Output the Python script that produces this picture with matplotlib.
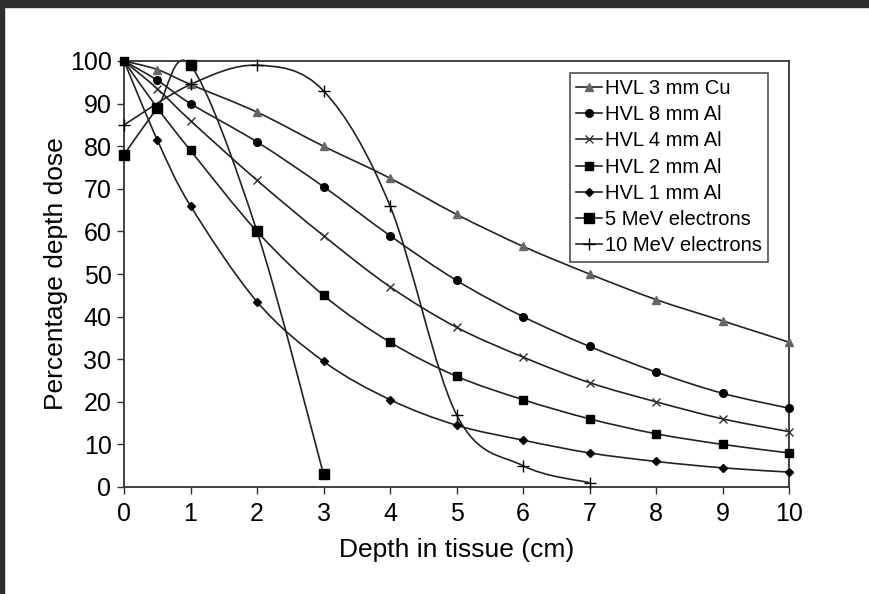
import matplotlib
matplotlib.use("Agg")
import matplotlib.pyplot as plt
from matplotlib.path import Path
from matplotlib.patches import PathPatch, Rectangle
from matplotlib.lines import Line2D
import numpy as np

plt.rcParams['font.family'] = ['Liberation Sans', 'DejaVu Sans']

depth = [0, 0.5, 1, 2, 3, 4, 5, 6, 7, 8, 9, 10]
hvl_3cu = [100, 98, 94.5, 88, 80, 72.5, 64, 56.5, 50, 44, 39, 34]
hvl_8al = [100, 95.5, 90, 81, 70.5, 59, 48.5, 40, 33, 27, 22, 18.5]
hvl_4al = [100, 93.5, 86, 72, 59, 47, 37.5, 30.5, 24.5, 20, 16, 13]
hvl_2al = [100, 89, 79, 60, 45, 34, 26, 20.5, 16, 12.5, 10, 8]
hvl_1al = [100, 81.5, 66, 43.5, 29.5, 20.5, 14.5, 11, 8, 6, 4.5, 3.5]
e5_depth = [0, 0.5, 1, 2, 3]
e5_dose = [78, 89, 99, 60, 3]
e10_depth = [0, 1, 2, 3, 4, 5, 6, 7]
e10_dose = [85, 94.5, 99, 93, 66, 17, 5, 1]

series = [
    ("HVL 3 mm Cu", depth, hvl_3cu, dict(marker='^', ms=6, mfc='#666666', mec='#666666')),
    ("HVL 8 mm Al", depth, hvl_8al, dict(marker='o', ms=5.5, mfc='black', mec='black')),
    ("HVL 4 mm Al", depth, hvl_4al, dict(marker='x', ms=6, mfc='none', mec='#333333', mew=1.0)),
    ("HVL 2 mm Al", depth, hvl_2al, dict(marker='s', ms=5.5, mfc='black', mec='black')),
    ("HVL 1 mm Al", depth, hvl_1al, dict(marker='D', ms=4, mfc='black', mec='black')),
    ("5 MeV electrons", e5_depth, e5_dose, dict(marker='s', ms=7, mfc='black', mec='black')),
    ("10 MeV electrons", e10_depth, e10_dose, dict(marker='+', ms=8, mfc='none', mec='black', mew=1.0)),
]

def smooth_path(xs, ys):
    pts = np.column_stack([xs, ys]).astype(float)
    n = len(pts)
    verts = [pts[0]]
    codes = [Path.MOVETO]
    for i in range(n - 1):
        p0 = pts[i - 1] if i > 0 else pts[i]
        p1 = pts[i]
        p2 = pts[i + 1]
        p3 = pts[i + 2] if i + 2 < n else pts[i + 1]
        c1 = p1 + (p2 - p0) / 6.0
        c2 = p2 - (p3 - p1) / 6.0
        verts += [c1, c2, p2]
        codes += [Path.CURVE4] * 3
    return Path(verts, codes)

fig = plt.figure(figsize=(8.69, 5.94), dpi=100)
fig.patch.set_facecolor('white')
ax = fig.add_axes([124/869, 1 - 487/594, 665/869, 426/594])

line_color = '#222222'
handles = []
for label, xs, ys, mk in series:
    patch = PathPatch(smooth_path(xs, ys), facecolor='none', edgecolor=line_color, lw=1.2, zorder=2, clip_on=False)
    ax.add_patch(patch)
    ax.plot(xs, ys, linestyle='none', zorder=3, clip_on=False, **mk)
    handles.append(Line2D([0], [0], color=line_color, lw=1.2, label=label, **mk))

ax.set_xlim(0, 10)
ax.set_ylim(0, 100)
ax.set_xticks(range(0, 11))
ax.set_yticks(range(0, 101, 10))
ax.tick_params(axis='both', direction='out', length=5, width=1, labelsize=18, color='#333333', pad=4)
ax.tick_params(axis='x', pad=5.5)
for s in ax.spines.values():
    s.set_color('#333333')
    s.set_linewidth(1.3)
ax.set_xlabel("Depth in tissue (cm)", fontsize=19, labelpad=9)
ax.set_ylabel("Percentage depth dose", fontsize=19, labelpad=1)

leg = ax.legend(handles=handles, loc='upper right', bbox_to_anchor=(0.968, 0.972),
                fontsize=14.5, frameon=True, fancybox=False, edgecolor='#222222',
                labelspacing=0.36, handlelength=1.3, handletextpad=0.15, borderpad=0.3,
                borderaxespad=0)
leg.get_frame().set_linewidth(1.2)

# dark screenshot border
fig.patches.append(Rectangle((0, 1 - 7/594), 1, 7/594, transform=fig.transFigure, color='#2e2e2e', zorder=10))
fig.patches.append(Rectangle((0, 0), 4/869, 1, transform=fig.transFigure, color='#2e2e2e', zorder=10))

fig.savefig("out.png", dpi=100)
